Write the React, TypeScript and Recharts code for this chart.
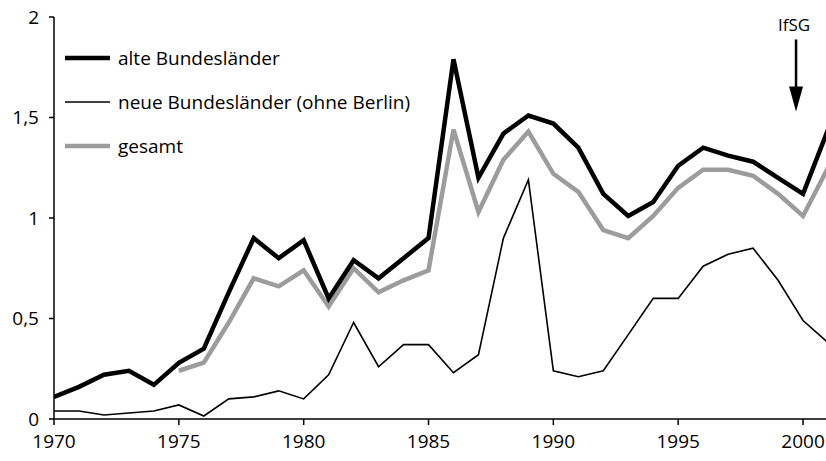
import React from "react";
import { LineChart, Line, XAxis, YAxis, ReferenceDot } from "recharts";

const years = [1970,1971,1972,1973,1974,1975,1976,1977,1978,1979,1980,1981,1982,1983,1984,1985,1986,1987,1988,1989,1990,1991,1992,1993,1994,1995,1996,1997,1998,1999,2000,2001];
const alte = [0.11,0.16,0.22,0.24,0.17,0.28,0.35,0.63,0.90,0.80,0.89,0.60,0.79,0.70,0.80,0.90,1.79,1.20,1.42,1.51,1.47,1.35,1.12,1.01,1.08,1.26,1.35,1.31,1.28,1.20,1.12,1.44];
const neue = [0.04,0.04,0.02,0.03,0.04,0.07,0.015,0.10,0.11,0.14,0.10,0.22,0.48,0.26,0.37,0.37,0.23,0.32,0.90,1.19,0.24,0.21,0.24,0.42,0.60,0.60,0.76,0.82,0.85,0.69,0.49,0.38];
const gesamt = [null,null,null,null,null,0.24,0.28,0.48,0.70,0.66,0.74,0.56,0.75,0.63,0.69,0.74,1.44,1.03,1.29,1.43,1.22,1.13,0.94,0.90,1.01,1.15,1.24,1.24,1.21,1.12,1.01,1.25];
const xTicks = [1970,1975,1980,1985,1990,1995,2000];
const yTicks = [0,0.5,1,1.5,2];
const legendItems = ["alte Bundesländer","neue Bundesländer (ohne Berlin)","gesamt"];
const annotation = { label: "IfSG", year: 1999.72, tip: 1.53, top: 1.885 };

const data = years.map((y, i) => ({ year: y, alte: alte[i], neue: neue[i], gesamt: gesamt[i] }));

const FONT = "'Open Sans', sans-serif";

const ArrowShape = (props: any) => {
  const { cx, cy, yAxisMap, yAxis } = props;
  let topY = cy - 72;
  const ax = yAxis || (yAxisMap && Object.values(yAxisMap)[0]);
  if (ax && ax.scale) topY = ax.scale(annotation.top);
  return (
    <g>
      <text x={cx - 2} y={topY - 8} textAnchor="middle" fontFamily={FONT} fontSize={17} fill="#000">{annotation.label}</text>
      <line x1={cx} y1={topY} x2={cx} y2={cy - 20} stroke="#000" strokeWidth={2.5} />
      <polygon points={`${cx - 7},${cy - 25} ${cx + 7},${cy - 25} ${cx},${cy}`} fill="#000" />
    </g>
  );
};

const Legend = () => {
  const styles = [
    { stroke: "#000", width: 4.5 },
    { stroke: "#000", width: 1.6 },
    { stroke: "#9c9c9c", width: 4.5 },
  ];
  return (
    <g>
      {legendItems.map((t, i) => (
        <g key={t}>
          <line x1={65} x2={110} y1={58 + i * 44} y2={58 + i * 44} stroke={styles[i].stroke} strokeWidth={styles[i].width} />
          <text x={118} y={65 + i * 44} fontFamily={FONT} fontSize={19} fill="#000">{t}</text>
        </g>
      ))}
    </g>
  );
};

export default function App() {
  return (
    <div style={{ position: "absolute", left: 0, top: 0, width: 826, height: 461, background: "#fff" }}>
      <LineChart width={826} height={461} data={data} margin={{ top: 17, right: -2, left: 0, bottom: 0 }}>
        <XAxis
          dataKey="year"
          type="number"
          domain={[1970, 2001]}
          ticks={xTicks}
          tick={{ fill: "#000", fontSize: 19, fontFamily: FONT }}
          tickSize={6}
          tickMargin={10}
          height={42}
          axisLine={{ stroke: "#000", strokeWidth: 1.5 }}
          tickLine={{ stroke: "#000", strokeWidth: 1.5 }}
          allowDataOverflow
        />
        <YAxis
          domain={[0, 2]}
          ticks={yTicks}
          width={54}
          tickFormatter={(v: number) => String(v).replace(".", ",")}
          tick={{ fill: "#000", fontSize: 19, fontFamily: FONT }}
          tickSize={5}
          tickMargin={10}
          axisLine={{ stroke: "#000", strokeWidth: 1.5 }}
          tickLine={{ stroke: "#000", strokeWidth: 1.5 }}
        />
        <Line dataKey="gesamt" stroke="#9c9c9c" strokeWidth={4.5} dot={false} isAnimationActive={false} connectNulls={false} strokeLinejoin="miter" />
        <Line dataKey="neue" stroke="#000" strokeWidth={1.6} dot={false} isAnimationActive={false} strokeLinejoin="miter" />
        <Line dataKey="alte" stroke="#000" strokeWidth={4.5} dot={false} isAnimationActive={false} strokeLinejoin="miter" />
        <ReferenceDot x={annotation.year} y={annotation.tip} r={0} shape={(p: any) => <ArrowShape {...p} />} ifOverflow="visible" />
        <Legend />
      </LineChart>
    </div>
  );
}
